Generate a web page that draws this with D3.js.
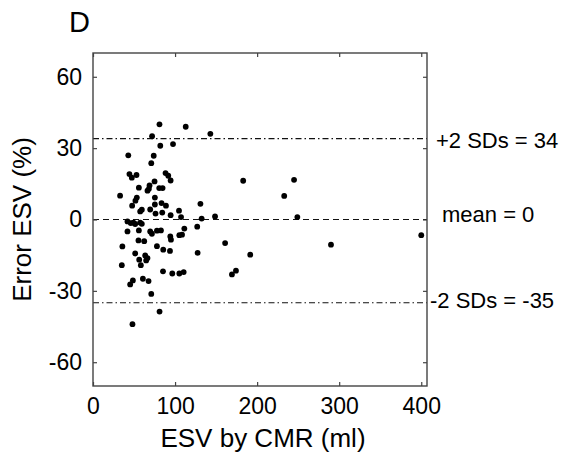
<!DOCTYPE html>
<html>
<head>
<meta charset="utf-8">
<script src="https://cdn.jsdelivr.net/npm/d3@7"></script>
<style>
  body { margin: 0; background: #fff; }
  text { font-family: "Liberation Sans", Arial, sans-serif; fill: #000; }
</style>
</head>
<body>
<div class="chart"></div>
<script>
var svgWidth = 572;
var svgHeight = 459;

var margin = { top: 53, right: 145, bottom: 73, left: 93 };
var width = svgWidth - margin.left - margin.right;
var height = svgHeight - margin.top - margin.bottom;

// ESV by CMR (ml)
var esvCmr = [81, 113, 143, 72, 82, 97.5, 43, 74, 71, 44.4, 47.3, 53, 88.4, 91.7, 94.6,
  183, 245, 233, 55.9, 68.9, 68.1, 66.4, 75, 80.7, 84.8, 33, 53.4, 51.7, 75.4, 47.7,
  59.5, 57.5, 69.7, 75.4, 76.2, 83.5, 88.9, 84.4, 94.6, 104.8, 107.3, 130.9, 132.4, 148.7, 249,
  42, 46, 49.3, 51.4, 57.5, 59.5, 42, 55.9, 69.7, 71.8, 77.9, 82.8, 94.2, 95, 105.2,
  108.5, 111.3, 127, 35.8, 55.4, 62.4, 77.9, 85.6, 93.8, 51.4, 56.3, 58.3, 63.6, 66.4, 64.8,
  35.1, 127.5, 161, 191.6, 290, 400, 85.3, 96.6, 105.2, 110.5, 169.3, 174.2, 48.6, 45.3, 60.8,
  67.7, 71, 81.1, 48.1];
// Error ESV (%)
var errEsv = [40, 39, 36, 35, 31, 31.7, 27, 26.8, 23.7, 19.1, 17.6, 18.7, 19.5, 18.4, 16.4,
  16.3, 16.7, 9.9, 13.4, 14.3, 12.9, 12.1, 16, 13.2, 13.2, 10, 9.2, 7.9, 9.2, 5.8,
  4.1, 3.4, 4.2, 6.3, 2.5, 6.9, 5.8, 2.9, 1.8, 3.7, 1, 6.6, 0.4, 1.3, 1,
  -0.8, -1.5, -1.3, -1.9, -1.3, -1.8, -5, -4.6, -5, -6, -4.7, -4.6, -7.1, -8.5, -6.6,
  -6.4, -3.8, -3, -11.3, -8.8, -9.1, -11.2, -12.7, -13.2, -14.3, -16.9, -19.2, -15.1, -16.2, -17.2,
  -19.2, -14, -9.9, -14.8, -10.6, -6.6, -21.8, -22.7, -22.7, -22.1, -23.1, -21.5, -25.6, -27.3, -24.9,
  -25.9, -31.3, -38.7, -44];

var xTicks = [0, 100, 200, 300, 400];
var yTicks = [-60, -30, 0, 30, 60];

var refValues = [34, 0, -35];
var refLabels = ["+2 SDs = 34", "mean = 0", "-2 SDs = -35"];

var points = esvCmr.map(function(x, i) { return { x: x, y: errEsv[i] }; });

var svg = d3.select(".chart")
  .append("svg")
  .attr("width", svgWidth)
  .attr("height", svgHeight);

var chart = svg.append("g")
  .attr("transform", "translate(" + margin.left + "," + margin.top + ")");

var xScale = d3.scaleLinear().domain([0, 407]).range([0, width]);
var yScale = d3.scaleLinear().domain([-70, 70]).range([height, 0]);

var axisColor = "#444";
var plain = function(d) { return String(d); };

// reference lines
var dashes = ["6,3,1.5,3", "6,4", "6,3,1.5,3"];
chart.selectAll(".ref")
  .data(refValues)
  .enter().append("line")
    .attr("x1", 0)
    .attr("x2", width)
    .attr("y1", function(d) { return yScale(d); })
    .attr("y2", function(d) { return yScale(d); })
    .attr("stroke", "#111")
    .attr("stroke-width", 1.2)
    .attr("stroke-dasharray", function(d, i) { return dashes[i]; });

// points
chart.selectAll("circle")
  .data(points)
  .enter().append("circle")
    .attr("cx", function(d) { return xScale(d.x); })
    .attr("cy", function(d) { return yScale(d.y); })
    .attr("r", 2.9)
    .attr("fill", "#000");

// axes with inward ticks on all sides
var bottomAxis = d3.axisBottom(xScale).tickValues(xTicks).tickSizeInner(-4).tickSizeOuter(0).tickPadding(12).tickFormat(plain);
var topAxis = d3.axisTop(xScale).tickValues(xTicks).tickSizeInner(-4).tickSizeOuter(0).tickFormat("");
var leftAxis = d3.axisLeft(yScale).tickValues(yTicks).tickSizeInner(-4).tickSizeOuter(0).tickPadding(11).tickFormat(plain);
var rightAxis = d3.axisRight(yScale).tickValues(yTicks).tickSizeInner(-4).tickSizeOuter(0).tickFormat("");

var gx = chart.append("g").attr("transform", "translate(0," + height + ")").call(bottomAxis);
var gt = chart.append("g").call(topAxis);
var gy = chart.append("g").call(leftAxis);
var gr = chart.append("g").attr("transform", "translate(" + width + ",0)").call(rightAxis);

[gx, gt, gy, gr].forEach(function(g) {
  g.select(".domain").remove();
  g.selectAll("line").attr("stroke", axisColor).attr("stroke-width", 1.2);
  g.selectAll("text").style("font-size", "23px").attr("fill", "#000");
});

chart.append("rect")
  .attr("width", width)
  .attr("height", height)
  .attr("fill", "none")
  .attr("stroke", axisColor)
  .attr("stroke-width", 1.4);

// reference labels
var labelDx = [9, 15, 3];
var labelDy = [9, 2, 5];
chart.selectAll(".reflabel")
  .data(refLabels)
  .enter().append("text")
    .attr("x", function(d, i) { return width + labelDx[i]; })
    .attr("y", function(d, i) { return yScale(refValues[i]) + labelDy[i]; })
    .style("font-size", "22px")
    .text(function(d) { return d; });

// axis titles
chart.append("text")
  .attr("x", width / 2 + 3)
  .attr("y", height + 61)
  .attr("text-anchor", "middle")
  .style("font-size", "26px")
  .text("ESV by CMR (ml)");

chart.append("text")
  .attr("transform", "rotate(-90)")
  .attr("x", -yScale(0))
  .attr("y", -margin.left + 31)
  .attr("text-anchor", "middle")
  .style("font-size", "26px")
  .text("Error ESV (%)");

// panel letter
svg.append("text")
  .attr("x", 69)
  .attr("y", 32)
  .style("font-size", "29px")
  .text("D");
</script>
</body>
</html>
